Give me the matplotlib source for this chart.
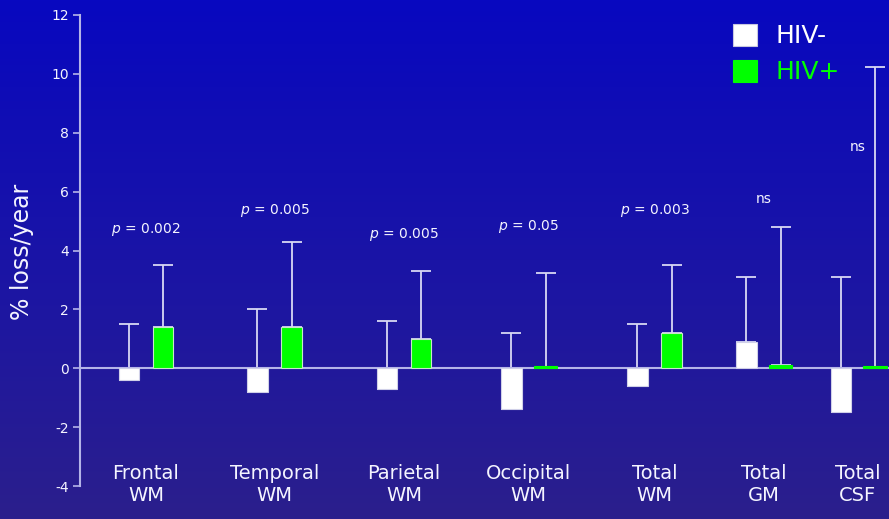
import numpy as np
import matplotlib
matplotlib.use("Agg")
import matplotlib.pyplot as plt
from matplotlib.colors import LinearSegmentedColormap

# Annual percentage volume loss by brain region
categories = ["Frontal\nWM", "Temporal\nWM", "Parietal\nWM", "Occipital\nWM",
              "Total\nWM", "Total\nGM", "Total\nCSF"]
hiv_neg_mean = [-0.4, -0.8, -0.7, -1.4, -0.6, 0.9, -1.5]
hiv_neg_sd = [1.9, 2.8, 2.3, 2.6, 2.1, 2.2, 4.6]
hiv_pos_mean = [1.4, 1.4, 1.0, 0.02, 1.2, 0.1, 0.02]
hiv_pos_sd = [2.1, 2.9, 2.3, 3.2, 2.3, 4.7, 10.2]
p_labels = [r"$\it{p}$ = 0.002", r"$\it{p}$ = 0.005", r"$\it{p}$ = 0.005",
            r"$\it{p}$ = 0.05", r"$\it{p}$ = 0.003", "ns", "ns"]
p_label_y = [4.7, 5.35, 4.55, 4.8, 5.35, 5.75, 7.5]
series_names = ["HIV-", "HIV+"]
y_ticks = [-4, -2, 0, 2, 4, 6, 8, 10, 12]

# group centres (slide layout is not evenly spaced)
group_x = np.array([0.66, 1.945, 3.24, 4.485, 5.745, 6.835, 7.78])
offset = 0.172
bar_w = 0.205

W, H = 889, 519
fig = plt.figure(figsize=(W / 100, H / 100), dpi=100)

# background gradient
bg = fig.add_axes([0, 0, 1, 1], zorder=0)
cmap = LinearSegmentedColormap.from_list(
    "slide", [(0.0, "#0808c0"), (0.5, "#1a14a6"), (1.0, "#2b1f8c")])
grad = np.linspace(0, 1, 256).reshape(-1, 1)
bg.imshow(grad, aspect="auto", cmap=cmap, extent=[0, 1, 0, 1], origin="upper")
bg.set_axis_off()

ax = fig.add_axes([80 / W, 1 - 486 / H, 1 - 80 / W, (486 - 15) / H], zorder=1)
ax.patch.set_alpha(0)
ax.set_xlim(0, 8.09)
ax.set_ylim(-4, 12)

line_col = "#b4b4e8"
text_col = "#f4f4ff"

# zero line
ax.axhline(0, color=line_col, lw=1.5, zorder=2)

x_neg = group_x - offset
x_pos = group_x + offset

# upper-only error bars, behind bars
zeros = np.zeros(len(categories))
ax.errorbar(x_neg, hiv_neg_mean, yerr=[zeros, hiv_neg_sd], fmt="none",
            ecolor="#d8d8f4", elinewidth=1.3, capsize=7.2, capthick=1.3, zorder=1)
ax.errorbar(x_pos, hiv_pos_mean, yerr=[zeros, hiv_pos_sd], fmt="none",
            ecolor="#d8d8f4", elinewidth=1.3, capsize=7.2, capthick=1.3, zorder=1)

ax.bar(x_neg, hiv_neg_mean, width=bar_w, color="white", edgecolor="#d0d0e8",
       linewidth=0.8, zorder=3)
for xv, v in zip(x_pos, hiv_pos_mean):
    ec = "#c8e8c8" if abs(v) > 0.3 else "#00ff00"
    h = v if abs(v) > 0.3 else max(v, 0.06)
    ax.bar(xv, h, width=bar_w + (0 if abs(v) > 0.3 else 0.03), color="#00ff00",
           edgecolor=ec, linewidth=0.8, zorder=3)

# significance labels
for xv, yv, lab in zip(group_x, p_label_y, p_labels):
    ax.text(xv, yv, lab, ha="center", va="center", color=text_col, fontsize=10,
            family="DejaVu Sans", zorder=4)

# category labels under the bars
for xv, lab in zip(group_x, categories):
    ax.text(xv, -3.95, lab, ha="center", va="center", color=text_col,
            fontsize=14, linespacing=1.2, zorder=4)

ax.set_yticks(y_ticks)
ax.set_yticklabels([str(t) for t in y_ticks])
ax.tick_params(axis="y", colors=line_col, labelcolor=text_col, labelsize=10,
               length=5, width=1.2, direction="out", pad=3)
ax.set_xticks([])
for s in ["top", "right", "bottom"]:
    ax.spines[s].set_visible(False)
ax.spines["left"].set_color(line_col)
ax.spines["left"].set_linewidth(1.5)

fig.text(22 / W, 1 - 252 / H, "% loss/year", rotation=90, ha="center",
         va="center", color=text_col, fontsize=17)

# legend
leg_items = [("white", "white"), ("#00ff00", "#00ff00")]
for i, (name, (fc, tc)) in enumerate(zip(series_names, leg_items)):
    y0 = 24 + i * 36
    fig.patches.append(plt.Rectangle((733 / W, 1 - (y0 + 22) / H), 24 / W, 22 / H,
                                     transform=fig.transFigure, facecolor=fc,
                                     edgecolor="#c8c8e0" if i == 0 else fc,
                                     linewidth=0.8, zorder=5))
    fig.text(776 / W, 1 - (y0 + 12) / H, name, ha="left", va="center",
             color=tc, fontsize=18)

fig.savefig("out.png", dpi=100)
